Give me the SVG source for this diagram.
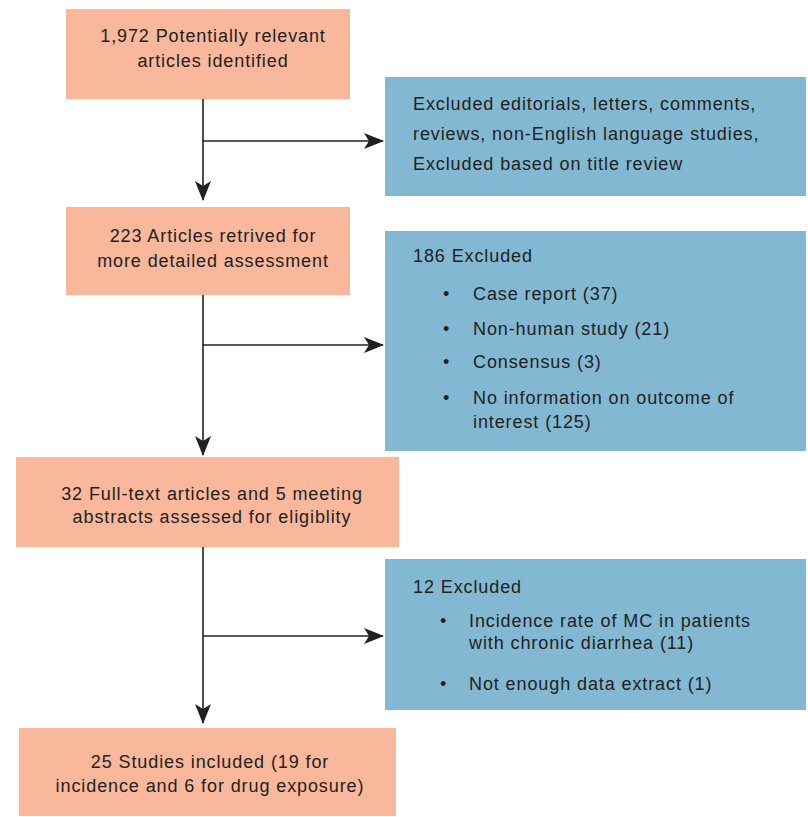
<svg xmlns="http://www.w3.org/2000/svg" width="808" height="817" viewBox="0 0 808 817">
<style>
.pink{fill:#F9B89B}
.blue{fill:#82B8D1}
text{font-family:"Liberation Sans",Arial,sans-serif;font-size:18px;letter-spacing:0.9px;fill:#231F20}
.c{text-anchor:middle}
.ln{stroke:#231F20;stroke-width:1.6;fill:none}
</style>
<defs>
<marker id="ah" viewBox="0 0 20 16" refX="19" refY="8" markerWidth="20" markerHeight="16" markerUnits="userSpaceOnUse" orient="auto">
<path d="M0,0 L20,8 L0,16 L5,8 Z" fill="#231F20"/>
</marker>
</defs>
<g id="connectors">
<path class="ln" d="M203,99 V200" marker-end="url(#ah)"/>
<path class="ln" d="M203,141 H383" marker-end="url(#ah)"/>
<path class="ln" d="M203,295 V455" marker-end="url(#ah)"/>
<path class="ln" d="M203,345 H383" marker-end="url(#ah)"/>
<path class="ln" d="M203,547 V723" marker-end="url(#ah)"/>
<path class="ln" d="M203,636 H383" marker-end="url(#ah)"/>
</g>
<g id="n1">
<rect class="pink" x="66" y="9" width="284" height="90"/>
<text class="c" x="213" y="42">1,972 Potentially relevant</text>
<text class="c" x="213" y="67">articles identified</text>
</g>
<g id="e1">
<rect class="blue" x="385" y="77" width="421" height="119"/>
<text x="413" y="110">Excluded editorials, letters, comments,</text>
<text x="413" y="140">reviews, non-English language studies,</text>
<text x="413" y="170">Excluded based on title review</text>
</g>
<g id="n2">
<rect class="pink" x="66" y="207" width="284" height="88"/>
<text class="c" x="213" y="242">223 Articles retrived for</text>
<text class="c" x="213" y="267">more detailed assessment</text>
</g>
<g id="e2">
<rect class="blue" x="385" y="231" width="421" height="220"/>
<text x="413" y="262">186 Excluded</text>
<text x="443" y="300">•</text><text x="473" y="300">Case report (37)</text>
<text x="443" y="335">•</text><text x="473" y="335">Non-human study (21)</text>
<text x="443" y="368">•</text><text x="473" y="368">Consensus (3)</text>
<text x="443" y="404">•</text><text x="473" y="404">No information on outcome of</text>
<text x="473" y="428">interest (125)</text>
</g>
<g id="n3">
<rect class="pink" x="16" y="457" width="383" height="90"/>
<text class="c" x="212" y="500">32 Full-text articles and 5 meeting</text>
<text class="c" x="212" y="523">abstracts assessed for eligiblity</text>
</g>
<g id="e3">
<rect class="blue" x="385" y="559" width="421" height="151"/>
<text x="413" y="593">12 Excluded</text>
<text x="440" y="627">•</text><text x="469" y="627">Incidence rate of MC in patients</text>
<text x="469" y="649">with chronic diarrhea (11)</text>
<text x="440" y="690">•</text><text x="469" y="690">Not enough data extract (1)</text>
</g>
<g id="n4">
<rect class="pink" x="19" y="728" width="377" height="88"/>
<text class="c" x="210" y="768">25 Studies included (19 for</text>
<text class="c" x="210" y="792">incidence and 6 for drug exposure)</text>
</g>
</svg>
